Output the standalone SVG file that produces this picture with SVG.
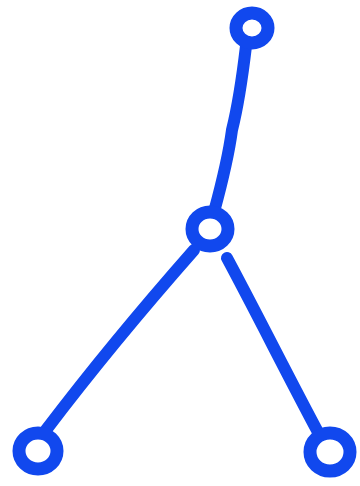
<svg xmlns="http://www.w3.org/2000/svg" width="360" height="486" viewBox="0 0 360 486">
<style>
.e{fill:none;stroke:#1148ee;stroke-width:12;stroke-linecap:round;stroke-linejoin:round}
.n{fill:none;stroke:#1148ee;stroke-width:13}
</style>
<rect width="360" height="486" fill="#ffffff"/>
<g id="edges">
<path class="e" d="M246,46 C242,80 237,110 232,130 C228,160 220,190 214,212"/>
<path class="e" d="M194,250 C150,300 90,372 46,430"/>
<path class="e" d="M227,258 C255,310 290,380 319,434"/>
</g>
<g id="n1"><ellipse class="n" cx="252" cy="28" rx="16" ry="15"/></g>
<g id="n2"><ellipse class="n" cx="210" cy="229" rx="18" ry="17"/></g>
<g id="n3"><ellipse class="n" cx="38" cy="451" rx="19" ry="18"/></g>
<g id="n4"><ellipse class="n" cx="330" cy="452" rx="20" ry="19"/></g>
</svg>
